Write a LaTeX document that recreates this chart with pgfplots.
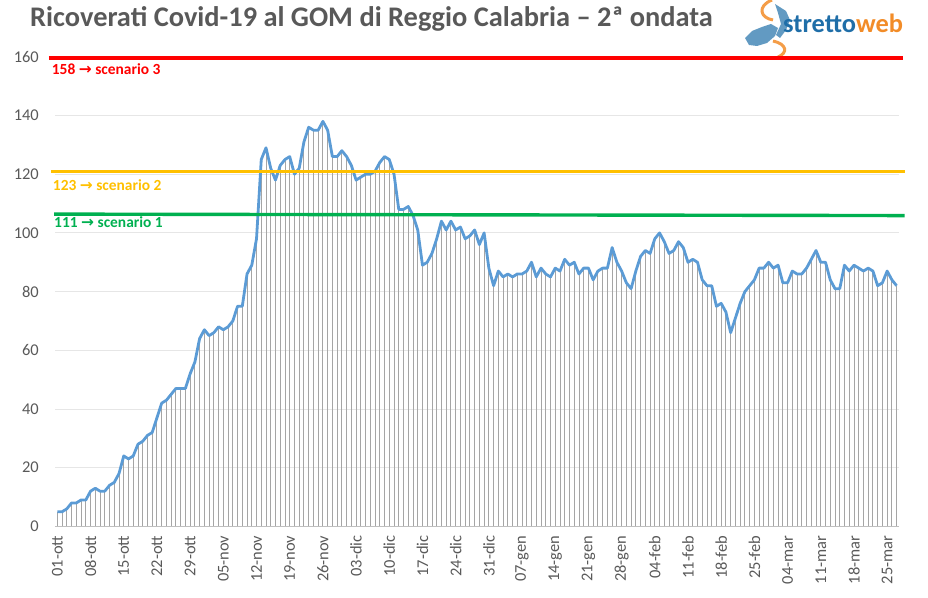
\documentclass[border=0pt]{standalone}
\usepackage{pgfplots}
\pgfplotsset{compat=1.18}
\usepackage{pgfplotstable}
\usepackage{fontspec}
\setmainfont{Carlito}
\newfontfamily\dejavu{DejaVu Sans}
\definecolor{txtgray}{HTML}{595959}
\definecolor{gridgray}{HTML}{E6E6E6}
\definecolor{dropgray}{HTML}{A5A5A5}
\definecolor{axisgray}{HTML}{BFBFBF}
\definecolor{lineblue}{HTML}{5B9BD5}
\definecolor{scred}{HTML}{FF0000}
\definecolor{scorange}{HTML}{FFC000}
\definecolor{scgreen}{HTML}{00B050}
\definecolor{logoblue}{HTML}{1F6EA8}
\definecolor{logoorange}{HTML}{F28C28}

\pgfplotstableread{
d v
0 5
1 5
2 6
3 8
4 8
5 9
6 9
7 12
8 13
9 12
10 12
11 14
12 15
13 18
14 24
15 23
16 24
17 28
18 29
19 31
20 32
21 37
22 42
23 43
24 45
25 47
26 47
27 47
28 52
29 56
30 64
31 67
32 65
33 66
34 68
35 67
36 68
37 70
38 75
39 75
40 86
41 89
42 98
43 125
44 129
45 122
46 118
47 123
48 125
49 126
50 120
51 122
52 131
53 136
54 135
55 135
56 138
57 135
58 126
59 126
60 128
61 126
62 123
63 118
64 119
65 120
66 120
67 121
68 124
69 126
70 125
71 120
72 108
73 108
74 109
75 106
76 101
77 89
78 90
79 93
80 98
81 104
82 101
83 104
84 101
85 102
86 98
87 99
88 101
89 96
90 100
91 88
92 82
93 87
94 85
95 86
96 85
97 86
98 86
99 87
100 90
101 85
102 88
103 86
104 85
105 88
106 87
107 91
108 89
109 90
110 86
111 88
112 88
113 84
114 87
115 88
116 88
117 95
118 90
119 87
120 83
121 81
122 87
123 92
124 94
125 93
126 98
127 100
128 97
129 93
130 94
131 97
132 95
133 90
134 91
135 90
136 84
137 82
138 82
139 75
140 76
141 73
142 66
143 71
144 76
145 80
146 82
147 84
148 88
149 88
150 90
151 88
152 89
153 83
154 83
155 87
156 86
157 86
158 88
159 91
160 94
161 90
162 90
163 84
164 81
165 81
166 89
167 87
168 89
169 88
170 87
171 88
172 87
173 82
174 83
175 87
176 84
177 82
}\data

\begin{document}
\begin{tikzpicture}
\useasboundingbox (0,0) rectangle (928bp,598bp);
% title
\node[anchor=base west, inner sep=0, text=txtgray, font=\bfseries\fontsize{28.5}{32}\selectfont] at (30bp,571bp) {Ricoverati Covid-19 al GOM di Reggio Calabria – 2ª ondata};
% logo
\fill[logoblue!70] (745bp,560bp) -- (752bp,567bp) -- (762bp,571bp) -- (771bp,574bp) -- (778bp,570bp) -- (775bp,562bp) -- (767bp,555bp) -- (757bp,552bp) -- (749bp,553bp) -- cycle;
\fill[logoblue!70] (775bp,594bp) -- (786bp,587bp) -- (790bp,578bp) -- (786bp,568bp) -- (780bp,560bp) -- (776bp,563bp) -- (781bp,574bp) -- (778bp,585bp) -- cycle;
\draw[logoorange!85, line width=3bp] (772bp,598bp) .. controls (757bp,592bp) and (760bp,580bp) .. (773bp,578bp);
\draw[logoorange!85, line width=3bp] (773bp,557bp) .. controls (787bp,554bp) and (788bp,545bp) .. (778bp,541bp);
\node[anchor=base west, inner sep=0, font=\bfseries\fontsize{26.5}{30}\selectfont] at (783bp,565bp) {\textcolor{logoblue}{stretto}\textcolor{logoorange}{web}};
\begin{axis}[
  at={(55bp,71.6bp)}, anchor=south west,
  scale only axis, width=844bp, height=469.6bp,
  xmin=-0.5, xmax=177.5, ymin=0, ymax=160,
  clip=false,
  axis line style={draw=none},
  ymajorgrids, grid style={draw=gridgray, line width=0.8bp},
  major tick length=0pt,
  xtick={0,7,...,175},
  xticklabels={01-ott,08-ott,15-ott,22-ott,29-ott,05-nov,12-nov,19-nov,26-nov,03-dic,10-dic,17-dic,24-dic,31-dic,07-gen,14-gen,21-gen,28-gen,04-feb,11-feb,18-feb,25-feb,04-mar,11-mar,18-mar,25-mar},
  ytick={0,20,...,160},
  /pgf/number format/assume math mode=true,
  tick label style={font=\fontsize{16.5}{18}\selectfont, text=txtgray},
  xticklabel style={rotate=90, anchor=east, inner sep=0pt, xshift=-9bp},
  yticklabel style={anchor=east, inner sep=0pt, xshift=-16bp},
]
\draw[axisgray, line width=1bp] (rel axis cs:0,0) -- (rel axis cs:1,0);
\addplot[ycomb, draw=dropgray, line width=0.9bp, no marks] table[x=d, y=v] {\data};
\addplot[lineblue, line width=2.8bp, line join=round, no marks] table[x=d, y=v] {\data};
\addplot[scred, line width=4.3bp, no marks] coordinates {(-1.77,159.5) (178.3,159.5)};
\addplot[scorange, line width=3.4bp, no marks] coordinates {(-1.34,120.9) (178.7,120.9)};
\addplot[scgreen, line width=3.4bp, no marks] coordinates {(-0.71,106.4) (178.7,105.9)};
\node[anchor=base west, inner sep=0, text=scred, font=\bfseries\fontsize{15.5}{17}\selectfont] at (axis cs:-1.2,153.8) {158 {\dejavu →} scenario 3};
\node[anchor=base west, inner sep=0, text=scorange, font=\bfseries\fontsize{15.5}{17}\selectfont] at (axis cs:-0.98,114.6) {123 {\dejavu →} scenario 2};
\node[anchor=base west, inner sep=0, text=scgreen, font=\bfseries\fontsize{15.5}{17}\selectfont] at (axis cs:-0.71,101.8) {111 {\dejavu →} scenario 1};
\end{axis}
\end{tikzpicture}
\end{document}
